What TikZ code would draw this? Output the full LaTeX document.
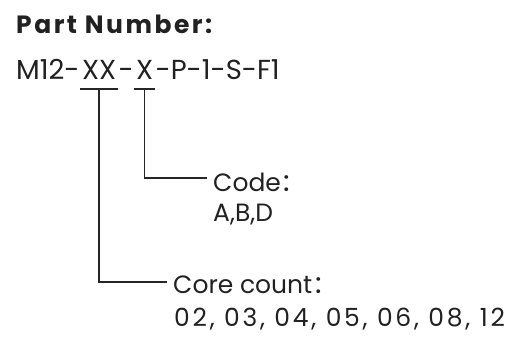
\documentclass[tikz,border=0pt]{standalone}
\usepackage{fontspec}
\setmainfont{Poppins}
\newfontfamily\cjk{Noto Sans CJK SC}
\usetikzlibrary{positioning, calc}

\tikzset{
    txt/.style={anchor=base west, inner sep=0pt, font=\fontsize{25}{30}\selectfont, text=black!87},
    pn/.style={txt, font=\fontsize{27.5}{30}\selectfont},
    lead/.style={line width=1.5pt, draw=black!85},
}

\begin{document}
\begin{tikzpicture}[x=1pt, y=-1pt]
    \useasboundingbox (0,0) rectangle (512,338);

    \node[txt, font=\fontsize{25}{30}\selectfont\bfseries\addfontfeature{LetterSpace=10}] (title) at (16,33) {Part Number:};

    % part number, cut into pieces
    \node[pn] (m) at (16,79) {M12-};
    \node[pn, inner xsep=2pt] (xx) at (m.base east) {XX};
    \node[pn] (d1) at (xx.base east) {-};
    \node[pn, inner xsep=2pt] (x) at (d1.base east) {X};
    \node[pn] (rest) at (x.base east) {-P-1-S-F1};

    \node[txt] (code) at (213,191) {Code{\cjk ：}};
    \node[txt] (codes) at (213,221) {A,B,D};
    \node[txt] (count) at (173,293) {Core count{\cjk ：}};
    \node[txt, font=\fontsize{25}{30}\selectfont\addfontfeature{LetterSpace=11}] (counts) at (174,326) {02, 03, 04, 05, 06, 08, 12};

    \draw[lead] ([yshift=-10pt]xx.base west) -- ([yshift=-10pt]xx.base east);
    \draw[lead] ([yshift=-10pt]x.base west) -- ([yshift=-10pt]x.base east);
    \draw[lead] ([yshift=-10pt]x.base) |- ($(code.base west)+(-6,-13)$);
    \draw[lead] ([yshift=-10pt]xx.base) |- ($(count.base west)+(-6,-11)$);
\end{tikzpicture}
\end{document}
